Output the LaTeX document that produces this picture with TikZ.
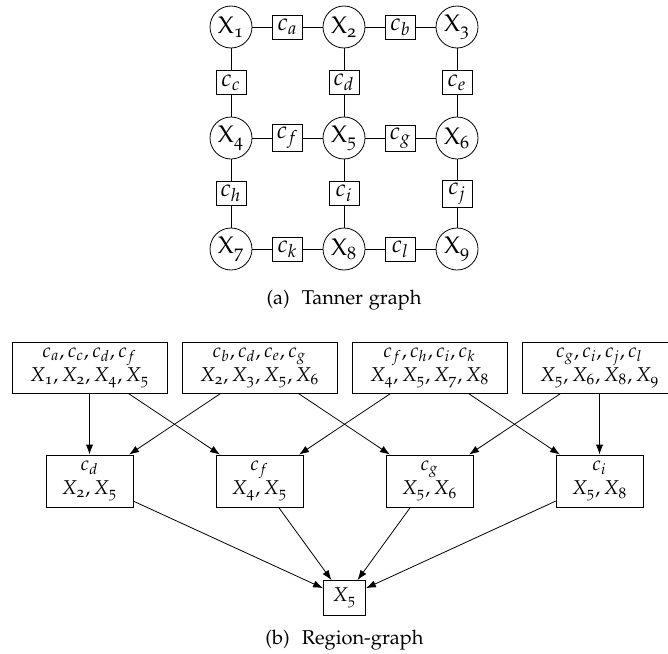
\documentclass[tikz,border=0pt]{standalone}
\usepackage[T1]{fontenc}
\usepackage[osf]{mathpazo}
\usepackage{amsmath}
\usetikzlibrary{arrows.meta}
\newcommand\xs[1]{X_{\text{#1}}}
\newcommand\xu[1]{\mathrm{X}_{\text{#1}}}
\begin{document}
\begin{tikzpicture}[x=0.5pt,y=-0.5pt,
  var/.style={draw,circle,minimum size=21pt,inner sep=0pt,font=\large},
  fac/.style={draw,rectangle,minimum width=15pt,minimum height=12pt,inner sep=1.5pt,font=\large},
  topbox/.style={draw,rectangle,minimum width=77.5pt,minimum height=25.5pt,align=center,inner sep=2pt},
  midbox/.style={draw,rectangle,minimum width=43.5pt,minimum height=26pt,align=center,inner sep=2pt},
  botbox/.style={draw,rectangle,minimum width=21pt,minimum height=17.5pt,inner sep=2pt},
  arr/.style={-{Latex[length=5pt,width=3.6pt]}},
  captext/.style={inner sep=0pt}]
\clip (0,0) rectangle (668,653);
\useasboundingbox (0,0) rectangle (668,653);
% Tanner graph
\node[var] (X1) at (231,27) {$\xu{1}$};
\node[var] (X2) at (344,27) {$\xu{2}$};
\node[var] (X3) at (457,27) {$\xu{3}$};
\node[var] (X4) at (231,138) {$\xu{4}$};
\node[var] (X5) at (344,138) {$\xu{5}$};
\node[var] (X6) at (457,138) {$\xu{6}$};
\node[var] (X7) at (231,249) {$\xu{7}$};
\node[var] (X8) at (344,249) {$\xu{8}$};
\node[var] (X9) at (457,249) {$\xu{9}$};
\node[fac] (ca) at (287.5,27) {$c_a$};
\node[fac] (cb) at (400.5,27) {$c_b$};
\node[fac] (cc) at (231,82.5) {$c_c$};
\node[fac] (cd) at (344,82.5) {$c_d$};
\node[fac] (ce) at (457,82.5) {$c_e$};
\node[fac] (cf) at (287.5,138) {$c_f$};
\node[fac] (cg) at (400.5,138) {$c_g$};
\node[fac] (ch) at (231,193.5) {$c_h$};
\node[fac] (ci) at (344,193.5) {$c_i$};
\node[fac] (cj) at (457,193.5) {$c_j$};
\node[fac] (ck) at (287.5,249) {$c_k$};
\node[fac] (cl) at (400.5,249) {$c_l$};
\draw (X1) -- (ca) -- (X2) -- (cb) -- (X3);
\draw (X4) -- (cf) -- (X5) -- (cg) -- (X6);
\draw (X7) -- (ck) -- (X8) -- (cl) -- (X9);
\draw (X1) -- (cc) -- (X4) -- (ch) -- (X7);
\draw (X2) -- (cd) -- (X5) -- (ci) -- (X8);
\draw (X3) -- (ce) -- (X6) -- (cj) -- (X9);
\node[captext] (capa) at (344,300) {(a)\hspace{0.6em}Tanner graph};
% Region graph
\node[topbox] (R1) at (89.5,367.5) {$c_a, c_c, c_d, c_f$\\$\xs{1}, \xs{2}, \xs{4}, \xs{5}$};
\node[topbox] (R2) at (259.5,367.5) {$c_b, c_d, c_e, c_g$\\$\xs{2}, \xs{3}, \xs{5}, \xs{6}$};
\node[topbox] (R3) at (429.5,367.5) {$c_f, c_h, c_i, c_k$\\$\xs{4}, \xs{5}, \xs{7}, \xs{8}$};
\node[topbox] (R4) at (599.5,367.5) {$c_g, c_i, c_j, c_l$\\$\xs{5}, \xs{6}, \xs{8}, \xs{9}$};
\node[midbox] (M1) at (89.5,481) {$c_d$\\$\xs{2}, \xs{5}$};
\node[midbox] (M2) at (259.5,481) {$c_f$\\$\xs{4}, \xs{5}$};
\node[midbox] (M3) at (429.5,481) {$c_g$\\$\xs{5}, \xs{6}$};
\node[midbox] (M4) at (599.5,481) {$c_i$\\$\xs{5}, \xs{8}$};
\node[botbox] (B) at (344.5,598) {$\xs{5}$};
\draw[arr] (R1) -- (M1);
\draw[arr] (R1) -- (M2);
\draw[arr] (R2) -- (M1);
\draw[arr] (R2) -- (M3);
\draw[arr] (R3) -- (M2);
\draw[arr] (R3) -- (M4);
\draw[arr] (R4) -- (M3);
\draw[arr] (R4) -- (M4);
\draw[arr] (M1) -- (B);
\draw[arr] (M2) -- (B);
\draw[arr] (M3) -- (B);
\draw[arr] (M4) -- (B);
\node[captext] (capb) at (344.5,640) {(b)\hspace{0.6em}Region-graph};
\end{tikzpicture}
\end{document}
